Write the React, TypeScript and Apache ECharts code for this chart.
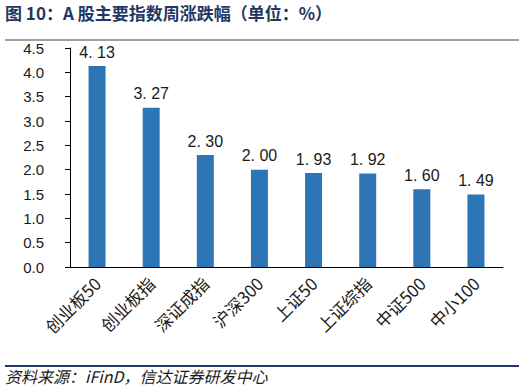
import React, { useEffect, useRef } from "react";
import * as echarts from "echarts";

const categories = ["创业板50", "创业板指", "深证成指", "沪深300", "上证50", "上证综指", "中证500", "中小100"];
const values = [4.13, 3.27, 2.3, 2.0, 1.93, 1.92, 1.6, 1.49];
const yTicks = { min: 0, max: 4.5, interval: 0.5 };
const titleText = "图 10：A 股主要指数周涨跌幅（单位：%）";
const sourceText = "资料来源：iFinD，信达证券研发中心";

const FONT = "'Liberation Sans', 'Noto Sans CJK SC', sans-serif";
const CJK = "'Noto Sans CJK SC', sans-serif";

export default function App() {
  const ref = useRef<HTMLDivElement>(null);
  useEffect(() => {
    if (!ref.current) return;
    const chart = echarts.init(ref.current, undefined, { renderer: "svg" });
    chart.setOption({
      animation: false,
      backgroundColor: "#ffffff",
      grid: { left: 70, right: 16, top: 48, bottom: 124, containLabel: false },
      xAxis: {
        type: "category",
        data: categories,
        axisLine: { show: true, lineStyle: { color: "#000000", width: 1 } },
        axisTick: { show: false },
        axisLabel: {
          rotate: 45,
          interval: 0,
          fontSize: 17,
          color: "#1a1a1a",
          fontFamily: CJK,
          margin: 13,
        },
      },
      yAxis: {
        type: "value",
        min: yTicks.min,
        max: yTicks.max,
        interval: yTicks.interval,
        axisLine: { show: true, lineStyle: { color: "#000000", width: 1 } },
        axisTick: { show: true, inside: false, length: 5, lineStyle: { color: "#000000" } },
        splitLine: { show: false },
        axisLabel: {
          fontSize: 15,
          color: "#1a1a1a",
          fontFamily: FONT,
          margin: 26,
          formatter: (v: number) => v.toFixed(1),
        },
      },
      series: [
        {
          type: "bar",
          data: values,
          barWidth: 17,
          itemStyle: { color: "#2e75b6" },
          label: {
            show: true,
            position: "top",
            distance: 6,
            fontSize: 16,
            color: "#1a1a1a",
            fontFamily: FONT,
            formatter: (p: any) => (p.value as number).toFixed(2).replace(".", ". "),
          },
        },
      ],
      graphic: [
        {
          type: "text",
          left: 5,
          top: 4,
          style: {
            text: titleText,
            fontSize: 17,
            fontWeight: "bold",
            fill: "#1f3864",
            fontFamily: CJK,
          },
        },
        {
          type: "line",
          shape: { x1: 5, y1: 40, x2: 519, y2: 40 },
          style: { stroke: "#404040", lineWidth: 1 },
        },
        {
          type: "line",
          shape: { x1: 5, y1: 366, x2: 519, y2: 366 },
          style: { stroke: "#1f3864", lineWidth: 2 },
        },
        {
          type: "text",
          left: 5,
          top: 368,
          style: {
            text: sourceText,
            fontSize: 16,
            fontStyle: "italic",
            fill: "#1a1a1a",
            fontFamily: CJK,
          },
        },
      ],
    });
    return () => chart.dispose();
  }, []);
  return (
    <div
      ref={ref}
      style={{ position: "fixed", left: 0, top: 0, width: 519, height: 391 }}
    />
  );
}
